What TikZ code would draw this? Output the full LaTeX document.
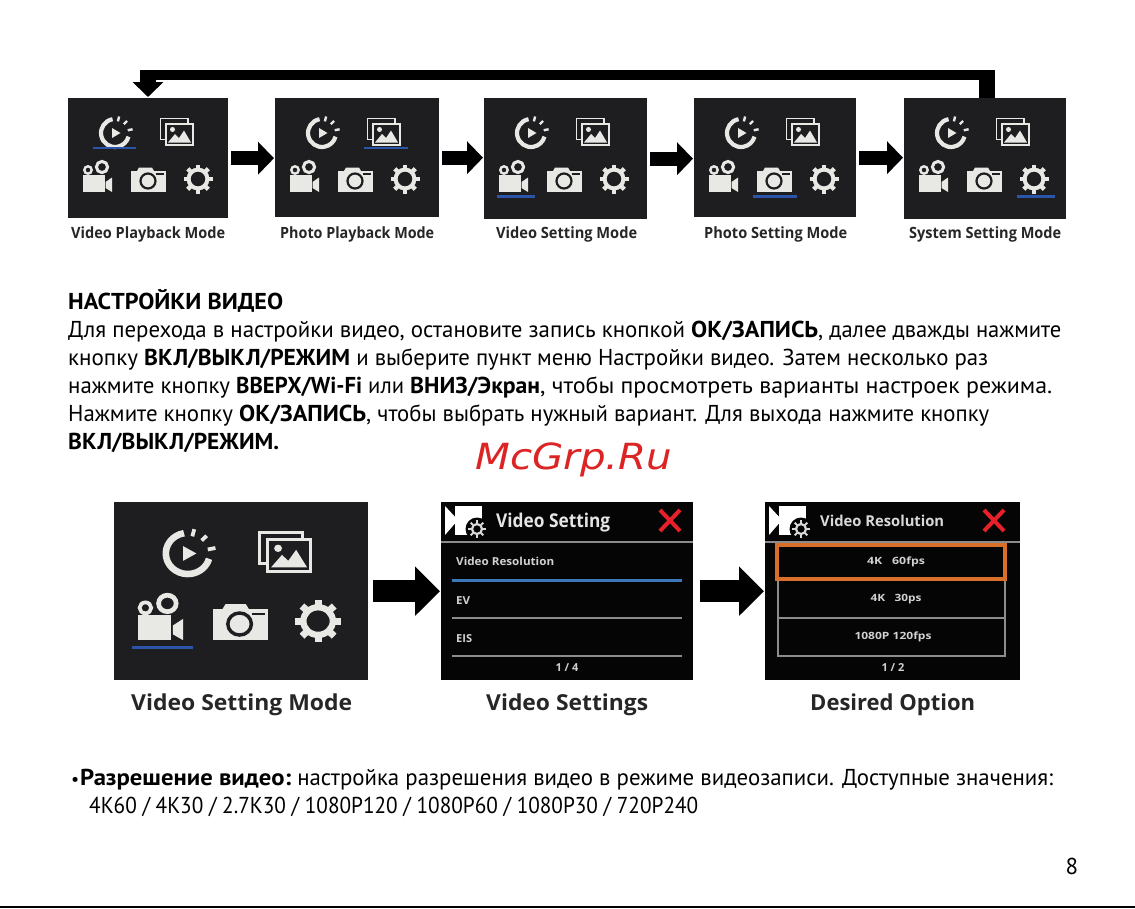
\documentclass[tikz,border=0pt]{standalone}
\usepackage{fontspec}
\usepackage{graphicx}
\setmainfont{PT Sans}
\newfontfamily\capfont{Open Sans}
\newfontfamily\wmfont{DejaVu Sans}
\usetikzlibrary{arrows.meta,calc}
\definecolor{panelbg}{HTML}{1E1E20}
\definecolor{screenbg}{HTML}{050505}
\definecolor{iconc}{HTML}{E8E8E5}
\definecolor{ublue}{HTML}{2B55A8}
\definecolor{lblue}{HTML}{3D78B8}
\definecolor{orng}{HTML}{D8702C}
\definecolor{xred}{HTML}{E8202A}
\definecolor{wmred}{HTML}{DC2424}
\definecolor{lgray}{HTML}{8C8C8C}
\newcommand{\fit}[2]{\resizebox{#1pt}{\height}{#2}}
\newcommand{\fitb}[2]{\resizebox{#1pt}{\height}{\textbf{#2}}}
\newcommand{\iconset}[3]{%
 \def\sc{#2}%
 \begin{scope}[shift={(#1.north west)},xscale=#2,yscale=#3]
  % playback
  \begin{scope}[shift={(47,35)},yscale=-1]
   \draw[iconc,line width=4.2pt*\sc] (100:14) arc[start angle=100,end angle=345,radius=14];
   \fill[iconc] (-3,5) -- (5.5,0) -- (-3,-5) -- cycle;
   \draw[iconc,line width=2.4pt*\sc] (76:12) -- (76:17);
   \draw[iconc,line width=2.4pt*\sc] (45:12.5) -- (45:17);
   \draw[iconc,line width=2.4pt*\sc] (12:13) -- (12:18);
  \end{scope}
  % gallery
  \draw[iconc,line width=1.9pt*\sc] (98,41.5) -- (92.5,41.5) -- (92.5,20.5) -- (120,20.5) -- (120,25);
  \fill[iconc] (97,24.5) rectangle (126,48);
  \fill[panelbg] (99,26.5) rectangle (124,46);
  \fill[iconc] (100,44.5) -- (107,36) -- (111,40) -- (116,32.5) -- (123,44.5) -- cycle;
  \fill[iconc] (104.5,31.5) circle[radius=2.5];
  % video camera
  \fill[iconc] (15,77) rectangle (36.5,94);
  \fill[iconc] (37.5,84) -- (44,79.5) -- (44,94) -- (37.5,90) -- cycle;
  \draw[iconc,line width=2.4pt*\sc] (20,72) circle[radius=3.7];
  \draw[iconc,line width=3pt*\sc] (34,69) circle[radius=5.6];
  % photo camera
  \fill[iconc] (63,72.5) rectangle (98,94);
  \fill[iconc] (71,69.5) -- (84,69.5) -- (86,73) -- (69,73) -- cycle;
  \draw[panelbg,line width=1.2pt*\sc] (88,76) -- (96,76);
  \draw[panelbg,line width=2.2pt*\sc] (80,83) circle[radius=7.5];
  % gear
  \begin{scope}[shift={(130,81)}]
   \draw[iconc,line width=4pt*\sc] (0,0) circle[radius=9.4];
   \foreach \a in {0,45,...,315}{
    \draw[iconc,line width=4.4pt*\sc] (\a:10) -- (\a:14.5);
   }
  \end{scope}
 \end{scope}}
\newcommand{\headicon}[1]{%
 \begin{scope}[shift={(#1.north west)}]
  \fill[white] (14,4) rectangle (41,33);
  \fill[white] (4,4) -- (17,18) -- (4,33) -- cycle;
  \fill[screenbg] (36,27) circle[radius=11.5];
  \draw[white!85!black,line width=2.2pt] (36,27) circle[radius=5];
  \foreach \a in {0,45,...,315}{\draw[white!85!black,line width=1.9pt] ($(36,27)+(\a:5.5)$) -- ($(36,27)+(\a:9)$);}
 \end{scope}}
\tikzset{
 panelbox/.style={fill=panelbg,draw=none,inner sep=0pt,anchor=north west},
 screenbox/.style={fill=screenbg,draw=none,inner sep=0pt,anchor=north west,minimum width=252pt,minimum height=178pt},
 smallarrow/.style={line width=14pt,-{Triangle[length=16pt,width=32pt]},shorten <=3pt,shorten >=1pt},
 bigarrow/.style={line width=22pt,-{Triangle[length=25pt,width=48pt]},shorten <=5pt,shorten >=1pt},
 smallcap/.style={font=\capfont\bfseries\fontsize{15.5}{16}\selectfont,inner sep=0pt,anchor=base west,text=black!85},
 bigcap/.style={font=\capfont\bfseries\fontsize{22}{22}\selectfont,inner sep=0pt,anchor=base west,text=black!85},
 bodyline/.style={font=\fontsize{23}{24}\selectfont,inner sep=0pt,anchor=base west},
 ulineblue/.style={ublue,line width=2.4pt},
 scrline/.style={lgray,line width=2pt},
 scrtxt/.style={text=white!82!black,inner sep=0pt,font=\capfont\bfseries\fontsize{11}{12}\selectfont},
 xmark/.style={xred,line width=4pt}
}
\begin{document}
\begin{tikzpicture}[x=1pt,y=-1pt]
\useasboundingbox (0,0) rectangle (1135,908);
\fill[white] (0,0) rectangle (1135,908);
% top row
\node[panelbox,minimum width=160pt,minimum height=120pt] (p1) at (68,98) {};
\node[panelbox,minimum width=164pt,minimum height=119pt] (p2) at (275,98) {};
\node[panelbox,minimum width=163pt,minimum height=121pt] (p3) at (484,98) {};
\node[panelbox,minimum width=162pt,minimum height=119pt] (p4) at (694,98) {};
\node[panelbox,minimum width=162pt,minimum height=121pt] (p5) at (904,98) {};
\iconset{p1}{1}{1}\iconset{p2}{1}{1}\iconset{p3}{1}{1}\iconset{p4}{1}{1}\iconset{p5}{1}{1}
\draw[ulineblue] ($(p1.north west)+(25,50)$) -- ($(p1.north west)+(68,50)$);
\draw[ulineblue] ($(p2.north west)+(89,50)$) -- ($(p2.north west)+(133,50)$);
\draw[ulineblue] ($(p3.north west)+(13,98.5)$) -- ($(p3.north west)+(51,98.5)$);
\draw[ulineblue] ($(p4.north west)+(59,98.5)$) -- ($(p4.north west)+(103,98.5)$);
\draw[ulineblue] ($(p5.north west)+(113,98.5)$) -- ($(p5.north west)+(151,98.5)$);
\draw[smallarrow] (p1.east) -- (p1.east -| p2.west);
\draw[smallarrow] (p2.east) -- (p2.east -| p3.west);
\draw[smallarrow] (p3.east) -- (p3.east -| p4.west);
\draw[smallarrow] (p4.east) -- (p4.east -| p5.west);
% return arrow
\coordinate (retA) at ($(p5.north west)+(83,0)$);
\coordinate (retB) at ($(p1.north west)+(80,-1)$);
\draw[line width=10pt,-{Triangle[length=15pt,width=30pt]}] (retA) -- ++(0,-23) -| (retB);
\fill[black] ($(retA)+(-8.5,0)$) rectangle ($(retA)+(8,-28)$);
\fill[black] ($(retB)+(-8,-27)$) rectangle ($(retB)+(8,-12)$);
% captions
\node[smallcap] (c1) at (71,238) {\fit{154}{Video Playback Mode}};
\node[smallcap] (c2) at (280,238) {\fit{154}{Photo Playback Mode}};
\node[smallcap] (c3) at (496,238) {\fit{141}{Video Setting Mode}};
\node[smallcap] (c4) at (704,238) {\fit{143}{Photo Setting Mode}};
\node[smallcap] (c5) at (909,238) {\fit{152}{System Setting Mode}};
% body text
\node[bodyline] (t0) at (68,309) {\fitb{215}{НАСТРОЙКИ ВИДЕО}};
\node[bodyline] (t1) at (68,337) {\fit{623}{Для перехода в настройки видео, остановите запись кнопкой }\fitb{127}{ОК/ЗАПИСЬ}\fit{243}{, далее дважды нажмите}};
\node[bodyline] (t2) at (68,365) {\fit{76}{кнопку }\fitb{206}{ВКЛ/ВЫКЛ/РЕЖИМ}\fit{638}{ и выберите пункт меню Настройки видео. Затем несколько раз}};
\node[bodyline] (t3) at (68,393) {\fit{168}{нажмите кнопку }\fitb{126}{ВВЕРХ/Wi-Fi}\fit{48}{ или }\fitb{130}{ВНИЗ/Экран}\fit{512}{, чтобы просмотреть варианты настроек режима.}};
\node[bodyline] (t4) at (68,421) {\fit{171}{Нажмите кнопку }\fitb{127}{ОК/ЗАПИСЬ}\fit{623}{, чтобы выбрать нужный вариант. Для выхода нажмите кнопку}};
\node[bodyline] (t5) at (68,449) {\fitb{211}{ВКЛ/ВЫКЛ/РЕЖИМ.}};
% watermark
\node[inner sep=0pt,anchor=base west,text=wmred] (wm) at (475,469) {\fit{197}{\wmfont\itshape\fontsize{36}{38}\selectfont McGrp.Ru}};
% bottom row
\node[panelbox,minimum width=254pt,minimum height=178pt] (big) at (114,502) {};
\iconset{big}{1.57}{1.47}
\draw[ublue,line width=3pt] (132,647.5) -- (193,647.5);
\node[screenbox] (s1) at (441,502) {};
\node[screenbox,minimum width=255pt] (s2) at (765,502) {};
\draw[bigarrow] (big.east) -- (big.east -| s1.west);
\draw[bigarrow,shorten <=7pt] (s1.east) -- (s1.east -| s2.west);
% screen 1
\headicon{s1}
\draw[scrline,line width=1.5pt] (441,542) -- (693,542);
\node[anchor=base west,inner sep=0pt,text=white!90!black,font=\capfont\bfseries\fontsize{19}{20}\selectfont] (s1t) at (496,527) {\fit{114}{Video Setting}};
\draw[xmark] (660,510) -- (680,531) (680,510) -- (660,531);
\node[scrtxt,anchor=base west] (s1a) at (456,565) {\fit{98}{Video Resolution}};
\draw[lblue,line width=3pt] (452,580) -- (682,580);
\node[scrtxt,anchor=base west] (s1b) at (456,604) {\fit{14}{EV}};
\draw[scrline] (452,618) -- (682,618);
\node[scrtxt,anchor=base west] (s1c) at (456,642) {\fit{16}{EIS}};
\draw[scrline] (452,656) -- (682,656);
\node[scrtxt] (s1p) at (567,668) {1 / 4};
% screen 2
\headicon{s2}
\draw[scrline,line width=1.5pt] (765,542) -- (1020,542);
\node[anchor=base west,inner sep=0pt,text=white!85!black,font=\capfont\bfseries\fontsize{15}{16}\selectfont] (s2t) at (820,526) {\fit{124}{Video Resolution}};
\draw[xmark] (984,510) -- (1004,531) (1004,510) -- (984,531);
\draw[lgray,line width=1.6pt] (778,560) -- (778,656) -- (1005,656) -- (1005,560);
\draw[scrline] (778,618) -- (1005,618);
\draw[orng,line width=3.5pt] (777,545) rectangle (1005,579);
\node[scrtxt,font=\capfont\bfseries\fontsize{10}{12}\selectfont] (s2a) at (896,562) {\fit{58}{4K\hspace{8pt}60fps}};
\node[scrtxt,font=\capfont\bfseries\fontsize{10}{12}\selectfont] (s2b) at (896,599) {\fit{51}{4K\hspace{8pt}30ps}};
\node[scrtxt,font=\capfont\bfseries\fontsize{10}{12}\selectfont] (s2c) at (893,637) {\fit{77}{1080P 120fps}};
\node[scrtxt] (s2p) at (893,668) {1 / 2};
% big captions
\node[bigcap] (b1) at (131,710) {\fit{221}{Video Setting Mode}};
\node[bigcap] (b2) at (486,710) {\fit{162}{Video Settings}};
\node[bigcap] (b3) at (810,710) {\fit{165}{Desired Option}};
% bullets
\node[bodyline,font=\fontsize{18}{18}\selectfont] (ub) at (71,785) {•};
\node[bodyline] (u1) at (80,785) {\fitb{211}{Разрешение видео:}\fit{762}{ настройка разрешения видео в режиме видеозаписи. Доступные значения:}};
\node[bodyline] (u2) at (89,813) {\fit{609}{4K60 / 4K30 / 2.7K30 / 1080P120 / 1080P60 / 1080P30 / 720P240}};
\node[bodyline,anchor=center] (pg) at (1072,866) {8};
\draw[black,line width=2pt] (0,907) -- (1135,907);
\end{tikzpicture}
\end{document}
